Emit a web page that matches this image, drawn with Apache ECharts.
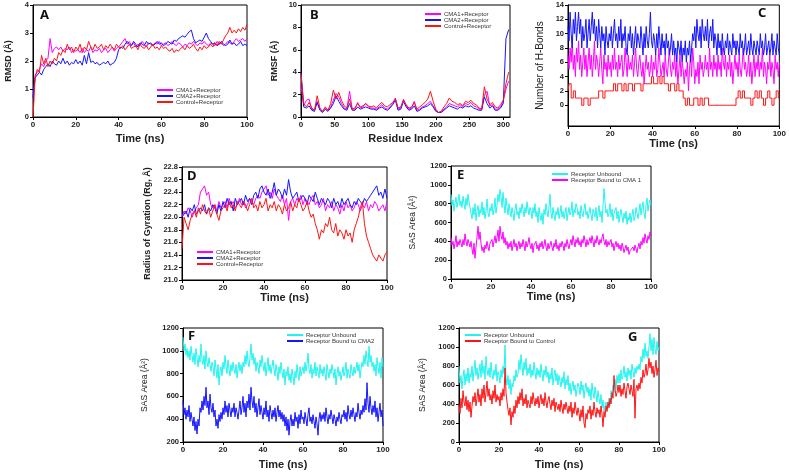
<!DOCTYPE html>
<html>
<head>
<meta charset="utf-8">
<script src="https://cdn.jsdelivr.net/npm/echarts@6/dist/echarts.min.js"></script>
<style>
  html, body { margin: 0; padding: 0; background: #fff; }
  #chart { width: 789px; height: 472px; }
</style>
</head>
<body>
<div id="chart"></div>
<script>
// ---- A: RMSD (0-100 ns, 1 ns steps)
const rmsdCma1 = [0.7,1.5,1.6,1.7,1.9,1.8,2.0,2.1,2.8,2.3,2.45,2.5,2.4,2.5,2.35,2.45,2.4,2.5,2.3,2.4,2.35,2.4,2.3,2.45,2.3,2.4,2.35,2.5,2.3,2.4,2.35,2.45,2.3,2.4,2.45,2.3,2.4,2.5,2.35,2.45,2.5,2.6,2.7,2.8,2.6,2.7,2.55,2.65,2.5,2.6,2.55,2.7,2.6,2.5,2.65,2.6,2.55,2.65,2.6,2.7,2.55,2.6,2.65,2.55,2.6,2.7,2.6,2.55,2.65,2.6,2.5,2.6,2.55,2.65,2.6,2.7,2.6,2.55,2.65,2.6,2.7,2.6,2.55,2.65,2.6,2.55,2.7,2.6,2.65,2.55,2.6,2.7,2.65,2.6,2.7,2.8,2.7,2.75,2.8,2.7,2.8];
const rmsdCma2 = [0.7,1.4,1.5,1.6,1.5,1.7,1.8,1.9,1.8,2.0,1.9,1.85,2.0,1.9,2.1,1.9,2.0,1.85,1.95,1.9,2.05,1.9,2.0,1.85,2.2,1.9,2.3,1.95,2.0,1.9,1.95,1.85,1.9,1.95,1.9,2.0,1.85,1.9,1.95,2.1,2.4,2.5,2.45,2.6,2.7,2.6,2.55,2.7,2.6,2.5,2.65,2.6,2.55,2.7,2.6,2.65,2.55,2.6,2.7,2.6,2.65,2.55,2.6,2.7,2.65,2.6,2.75,2.7,2.8,2.85,2.9,2.85,2.95,3.05,3.1,2.8,2.65,2.7,2.75,2.7,2.85,3.0,2.8,2.7,2.6,2.65,2.55,2.6,2.7,2.6,2.55,2.6,2.75,2.6,2.65,2.55,2.6,2.7,2.55,2.6,2.55];
const rmsdControl = [0.0,1.4,1.7,1.6,2.2,1.9,2.1,1.8,2.0,1.9,2.1,2.0,2.3,2.2,2.4,2.3,2.6,2.4,2.5,2.3,2.5,2.4,2.6,2.3,2.5,2.4,2.7,2.5,2.4,2.6,2.45,2.5,2.6,2.4,2.55,2.45,2.6,2.5,2.4,2.6,2.5,2.45,2.55,2.4,2.5,2.6,2.45,2.5,2.55,2.4,2.6,2.5,2.45,2.55,2.4,2.5,2.6,2.45,2.5,2.4,2.55,2.45,2.5,2.4,2.35,2.45,2.3,2.4,2.35,2.45,2.5,2.4,2.55,2.45,2.5,2.6,2.45,2.35,2.5,2.4,2.55,2.45,2.5,2.6,2.5,2.65,2.55,2.7,2.6,2.75,2.9,3.0,3.2,3.0,3.1,3.0,3.15,3.05,3.2,3.1,3.3];

// ---- B: RMSF (residues 0-308, every 4th residue)
const residueStep = 4;
const rmsfCma1 = [2.8,1.0,1.5,1.6,0.7,0.6,1.4,0.7,0.5,0.8,0.6,0.9,1.5,2.1,1.8,1.2,0.8,0.7,2.3,0.7,0.7,1.3,0.8,0.9,1.2,0.9,0.8,0.8,0.7,0.9,1.1,0.8,0.7,0.9,1.2,1.7,0.7,0.8,1.6,1.0,0.7,0.8,1.4,0.6,0.7,0.9,1.0,1.2,1.4,1.0,0.6,0.4,0.5,0.7,0.9,1.2,1.1,1.0,0.9,1.1,0.9,1.2,1.1,1.3,1.0,0.9,0.7,0.7,2.0,2.3,1.0,1.1,0.7,0.7,0.9,1.4,2.5,3.2];
const rmsfCma2 = [4.0,0.9,0.8,1.0,0.6,0.5,1.3,0.6,0.4,0.7,0.5,0.8,1.2,1.9,1.4,1.0,0.7,0.6,1.2,0.6,0.6,0.9,0.7,0.8,0.9,0.8,0.7,0.7,0.6,0.8,0.9,0.7,0.6,0.8,1.1,1.5,0.6,0.7,1.4,0.9,0.6,0.7,1.0,0.5,0.6,0.8,0.9,1.0,1.2,0.9,0.5,0.4,0.4,0.6,0.8,1.0,0.9,0.8,0.7,0.9,0.8,1.0,0.9,1.0,0.8,0.7,0.6,0.6,1.8,1.2,0.8,1.0,0.6,0.6,0.8,1.2,7.0,7.8];
const rmsfControl = [3.8,1.2,0.9,1.3,0.8,0.6,1.9,0.8,0.5,0.9,0.6,1.2,2.4,1.6,2.2,1.5,1.0,0.8,1.6,0.7,0.8,1.2,0.9,1.0,1.2,1.0,0.9,1.0,0.8,1.1,1.3,1.0,0.9,1.1,1.3,1.6,0.8,0.9,1.5,1.1,0.8,0.9,1.3,0.7,0.9,1.1,1.3,1.6,2.3,1.4,0.7,0.4,0.5,0.9,1.2,1.7,1.4,1.3,1.1,1.2,1.0,1.4,1.3,1.5,1.2,1.1,0.8,0.7,2.7,1.6,1.1,1.3,0.9,0.8,1.1,1.5,3.0,4.0];

// ---- C: number of H-bonds (0.5 ns sampling for CMA1/CMA2, 1 ns for control)
const hbCma1 = [
  7,5,8,6,9,5,7,4,8,6, 9,5,7,4,6,8,5,7,4,6, 8,5,7,4,6,9,5,7,6,4, 6,8,5,3,7,5,6,4,7,5,
  6,4,7,5,8,5,6,4,7,5, 6,7,4,5,8,6,4,7,5,6, 5,7,4,6,8,5,4,6,7,5, 4,6,3,5,7,5,6,4,5,7,
  4,6,5,7,4,5,8,6,4,5, 6,4,7,5,4,6,8,5,4,6, 5,7,4,6,3,5,7,4,6,5, 3,5,4,6,2,5,7,4,8,6,
  3,5,4,6,3,7,5,6,4,5, 7,5,6,4,8,5,6,4,7,5, 6,4,7,5,6,4,8,6,5,7, 4,6,5,7,4,6,3,5,7,5,
  6,4,7,5,4,6,8,5,6,4, 5,7,4,6,3,5,7,4,6,5, 7,4,6,5,8,4,6,5,3,6, 5,7,4,6,5,3,7,5,6,4, 6];
const hbCma2 = [
  11,9,13,10,8,12,10,13,9,11, 13,10,12,8,11,9,10,12,8,10, 12,9,11,13,10,12,9,11,8,12, 10,8,11,9,10,7,11,9,8,10,
  9,11,8,10,12,9,10,8,11,9, 12,8,10,9,11,8,7,10,9,11, 8,10,7,9,11,8,10,9,8,11, 9,7,10,8,11,9,8,10,13,9,
  8,10,9,7,10,8,11,9,7,10, 8,9,7,10,8,9,7,8,10,7, 9,7,8,6,9,8,7,9,6,8, 7,9,6,8,7,9,6,8,10,9,
  11,8,12,10,9,11,8,12,10,9, 11,9,12,8,10,11,9,12,8,10, 9,7,10,8,9,7,10,8,7,9, 8,10,7,9,8,7,10,8,9,7,
  9,8,7,10,8,9,7,8,10,7, 8,9,7,10,8,7,9,8,7,9, 8,7,10,8,9,7,8,10,7,8, 9,7,8,10,7,9,8,7,10,8, 7];
const hbControl = [2,3,1,2,1,1,1,0,1,1,0,1,1,1,1,2,2,1,2,2,2,2,3,2,3,3,2,3,2,3,3,2,3,3,3,2,3,3,3,3,4,3,3,4,3,4,3,3,2,3,3,2,3,2,2,1,0,1,0,0,1,1,0,1,0,1,1,0,0,0,0,0,0,0,0,0,0,0,0,0,1,2,1,2,1,1,1,0,1,2,1,2,1,0,1,2,1,0,1,2,1];
const hbTicks = [0,2,4,6,8,10,12,14];

// ---- D: radius of gyration
const rgCma1 = [22.0,22.1,22.05,22.15,22.1,22.0,22.1,22.15,22.2,22.4,22.45,22.5,22.35,22.4,22.2,22.15,22.2,22.1,22.25,22.15,22.2,22.25,22.15,22.3,22.2,22.25,22.15,22.2,22.3,22.2,22.25,22.15,22.2,22.3,22.25,22.2,22.3,22.35,22.3,22.4,22.45,22.5,22.35,22.4,22.3,22.45,22.35,22.3,22.25,22.35,22.2,22.3,21.95,22.25,22.3,22.2,22.3,22.25,22.35,22.2,22.3,22.25,22.2,22.3,22.35,22.2,22.25,22.15,22.2,22.3,22.1,22.2,22.15,22.25,22.1,22.2,22.15,22.05,22.2,22.1,22.25,22.15,22.2,22.1,22.15,22.25,22.2,22.1,22.2,22.15,22.25,22.1,22.2,22.15,22.25,22.2,22.1,22.15,22.2,22.1,22.25];
const rgCma2 = [22.0,22.05,22.1,22.0,22.15,22.1,22.2,22.05,22.1,22.15,22.1,22.2,22.05,22.15,22.1,22.2,22.15,22.05,22.2,22.1,22.25,22.15,22.3,22.2,22.25,22.1,22.3,22.2,22.25,22.3,22.2,22.35,22.25,22.3,22.2,22.35,22.4,22.3,22.45,22.5,22.4,22.35,22.45,22.3,22.4,22.55,22.35,22.45,22.4,22.3,22.45,22.35,22.6,22.4,22.3,22.35,22.4,22.25,22.3,22.35,22.3,22.2,22.35,22.3,22.25,22.4,22.3,22.2,22.3,22.25,22.2,22.3,22.25,22.15,22.3,22.2,22.25,22.15,22.3,22.2,22.25,22.3,22.2,22.15,22.25,22.2,22.3,22.25,22.2,22.3,22.25,22.3,22.35,22.4,22.45,22.5,22.35,22.4,22.3,22.45,22.3];
const rgControl = [21.5,22.0,21.9,21.8,21.95,22.05,22.1,22.0,22.15,22.05,22.2,22.1,22.05,22.15,22.0,22.1,22.2,22.05,21.95,22.1,22.15,22.2,22.1,22.25,22.15,22.2,22.1,22.25,22.2,22.15,22.25,22.2,22.1,22.2,22.3,22.15,22.2,22.1,22.25,22.15,22.2,22.3,22.1,22.2,22.15,22.25,22.1,22.2,22.15,22.05,22.2,22.1,22.15,22.25,22.1,22.2,22.15,22.3,22.2,22.1,22.15,22.25,22.1,22.0,22.05,21.9,21.8,21.65,21.8,21.75,21.9,21.85,22.0,21.8,21.75,21.9,21.7,21.8,21.75,21.65,21.8,21.7,21.75,21.6,21.8,21.9,22.0,22.15,22.25,21.9,21.7,21.6,21.5,21.4,21.35,21.3,21.4,21.35,21.3,21.4,21.45];

// ---- E: SASA unbound vs bound to CMA 1 (0.5 ns sampling)
const sasUnboundE = [
  900,780,840,720,800,870,760,820,900,780, 830,760,880,800,740,860,780,900,820,760,
  700,640,760,680,800,620,720,780,660,740, 700,820,680,760,640,720,850,700,660,760,
  720,800,680,740,860,700,780,900,820,950, 880,760,920,800,700,860,760,680,800,720,
  660,760,700,620,740,800,680,720,640,760, 700,800,740,660,760,700,820,740,680,760,
  720,640,760,700,800,660,720,600,760,680, 620,700,580,740,680,800,720,660,760,900,
  700,640,760,680,620,720,680,760,640,700, 780,660,720,640,700,760,620,700,760,680,
  720,820,660,740,700,800,760,680,720,640, 780,700,660,740,800,680,720,640,700,760,
  680,620,740,700,660,760,620,700,780,660, 720,600,780,960,820,700,740,660,700,800,
  660,740,620,700,680,760,640,720,600,680, 740,660,600,700,640,720,580,660,620,700,
  600,680,740,620,660,760,700,640,720,800, 680,760,820,700,640,780,860,720,800,840, 780];
const sasCma1 = [
  440,360,400,320,380,460,340,400,360,420, 380,340,420,360,480,400,350,420,380,340,
  400,320,260,380,220,340,440,560,420,500, 380,300,340,280,360,320,400,340,300,380,
  360,420,340,400,460,380,440,520,400,560, 460,420,500,380,440,360,400,320,380,340,
  400,300,360,420,340,380,300,360,400,320, 380,340,420,360,300,400,340,380,440,360,
  320,380,280,360,340,400,320,360,300,380, 340,400,320,360,420,340,300,380,320,360,
  400,340,300,380,340,420,320,360,300,380, 340,400,360,300,380,340,420,360,320,380,
  420,360,460,400,340,420,380,440,360,400, 340,420,380,460,400,340,420,360,400,440,
  380,460,400,340,420,380,460,400,360,420, 380,440,480,400,360,420,340,400,360,380,
  420,340,380,300,360,400,340,380,320,360, 300,380,340,280,320,360,300,340,260,300,
  320,280,340,300,360,320,280,340,380,320, 400,360,440,380,480,420,380,460,420,500, 460];

// ---- F: SASA unbound vs bound to CMA2 (0.5 ns sampling)
const sasUnboundF = [
  1120,1000,1060,960,1020,940,1000,920,1040,960, 900,980,880,1020,940,860,960,900,1060,920,
  880,960,840,1000,900,860,940,880,820,900, 860,780,920,840,760,880,700,820,860,780,
  900,840,960,860,800,920,840,780,880,820, 900,840,800,880,760,840,900,820,880,800,
  900,860,960,880,1000,900,860,940,1060,920, 980,880,940,820,900,860,800,920,860,960,
  880,820,900,780,860,940,820,880,800,860, 920,840,780,880,820,740,860,800,900,820,
  760,840,700,820,780,860,740,800,720,840, 780,700,820,760,880,800,740,860,780,820,
  860,800,900,820,880,980,840,800,880,760, 840,800,900,780,860,820,760,880,800,840,
  780,860,800,740,880,820,760,840,800,880, 820,760,840,700,800,860,780,820,740,800,
  860,780,820,900,760,840,800,760,880,820, 780,860,800,840,900,820,880,760,840,900,
  860,960,880,1000,920,860,1040,900,960,860, 900,820,880,780,940,860,800,900,760,940, 860];
const sasCma2 = [
  560,440,500,400,480,420,520,380,460,400, 340,420,300,380,270,400,340,500,460,560,
  480,600,520,680,500,560,440,620,500,460, 540,420,480,340,400,320,440,380,460,400,
  500,440,560,460,520,420,540,480,420,500, 460,540,420,500,460,400,480,560,440,500,
  600,460,540,420,560,500,620,480,680,560, 500,600,460,540,420,500,580,440,520,460,
  400,500,440,560,420,480,380,520,460,400, 480,420,500,380,460,520,420,480,400,460,
  380,440,340,420,300,400,260,380,440,340, 400,340,460,380,420,320,440,360,480,400,
  420,360,460,400,340,440,500,380,420,360, 440,380,320,420,360,260,400,460,380,440,
  400,460,380,500,420,360,440,400,480,420, 360,440,400,340,420,380,460,400,360,440,
  420,480,400,460,380,520,440,400,480,420, 500,440,380,460,420,540,460,400,480,440,
  520,460,580,480,720,540,460,600,500,440, 520,460,560,420,500,380,460,540,420,480, 340];

// ---- G: SASA unbound vs bound to control (0.5 ns sampling)
const sasUnboundG = [
  800,620,700,560,680,760,600,720,640,780, 620,720,680,800,640,760,860,700,780,660,
  740,820,680,860,720,800,660,900,760,700, 780,680,840,720,660,760,700,820,640,740,
  700,620,760,680,800,720,1020,680,600,700, 560,660,500,620,580,700,640,760,680,720,
  860,760,920,800,700,840,760,880,700,780, 720,820,680,760,700,840,740,660,780,700,
  760,680,820,720,640,760,700,800,680,740, 620,720,660,780,600,700,760,640,720,600,
  700,640,580,680,620,740,560,660,600,700, 540,620,500,580,640,540,600,480,560,620,
  580,500,640,540,600,460,560,620,520,580, 480,560,440,620,520,460,580,500,420,540,
  460,400,500,360,440,320,380,420,340,400, 460,380,540,480,600,520,660,560,700,620,
  720,620,760,660,700,800,680,740,640,780, 700,760,660,820,740,680,780,720,800,760,
  820,760,900,840,980,880,1040,900,960,880, 1000,1140,960,1080,920,1100,980,920,1060,960, 1000];
const sasControl = [
  400,300,460,360,540,420,380,480,340,440, 320,420,260,380,480,420,520,380,460,560,
  420,500,380,560,460,600,420,520,640,480, 560,440,500,400,540,460,600,420,500,440,
  480,380,520,440,560,480,780,520,420,340, 280,360,180,320,260,380,300,440,360,480,
  400,520,440,560,380,460,400,500,360,440, 420,360,480,400,520,440,380,460,400,480,
  360,440,500,400,460,380,520,420,360,440, 480,400,340,440,380,460,320,420,380,340,
  400,320,440,360,300,400,340,420,360,300, 380,320,420,260,360,300,420,340,280,360,
  300,220,340,260,380,200,150,300,240,340, 300,380,240,340,280,420,320,260,360,300,
  340,260,380,300,160,320,260,380,320,420, 360,460,400,520,460,700,560,480,520,600,
  520,600,480,560,500,620,540,460,580,620, 560,500,600,540,480,660,250,560,600,540,
  620,560,680,620,760,680,720,820,700,760, 880,780,840,720,800,680,760,860,700,780, 740];

const MAG = '#ff00ff', BLUE = '#1414ff', RED = '#ff1414', CYAN = '#1ff5ef';

// spread samples evenly over 0..100 ns
function overTime(arr) {
  return arr.map((v, i) => [i * 100 / (arr.length - 1), v]);
}
function overResidue(arr) {
  return arr.map((v, i) => [i * residueStep, v]);
}

const font = 'Liberation Sans';
const tickLabel = { fontFamily: font, fontWeight: 'bold', fontSize: 8, color: '#222', margin: 4 };

function xAxis(gi, max, interval, name, gap) {
  return {
    gridIndex: gi, type: 'value', min: 0, max: max, interval: interval,
    name: name, nameLocation: 'middle', nameGap: gap,
    nameTextStyle: { fontFamily: font, fontWeight: 'bold', fontSize: 11, color: '#222' },
    axisLine: { onZero: false, lineStyle: { color: '#000', width: 1 } },
    axisTick: { length: 3, lineStyle: { color: '#000' } },
    splitLine: { show: false },
    axisLabel: tickLabel
  };
}
function yAxis(gi, min, max, interval, name, gap, nameSize, nameWeight, digits) {
  return {
    gridIndex: gi, type: 'value', min: min, max: max, interval: interval,
    name: name, nameLocation: 'middle', nameGap: gap, nameRotate: 90,
    nameTextStyle: { fontFamily: font, fontWeight: nameWeight || 'bold', fontSize: nameSize || 9, color: '#222' },
    axisLine: { onZero: false, lineStyle: { color: '#000', width: 1 } },
    axisTick: { length: 3, lineStyle: { color: '#000' } },
    splitLine: { show: false },
    axisLabel: Object.assign({}, tickLabel, {
      fontSize: 7.5,
      formatter: v => digits ? v.toFixed(digits) : String(v)
    })
  };
}
function grid(left, top, width, height) {
  return { left, top, width, height, show: true, borderColor: '#000', borderWidth: 1, backgroundColor: '#fff' };
}
function legend(names, left, top) {
  return {
    orient: 'vertical', left, top, padding: 0, itemGap: 0,
    itemWidth: 16, itemHeight: 2, icon: 'rect', selectedMode: false,
    textStyle: { fontFamily: font, fontSize: 6, lineHeight: 6, color: '#333', padding: [0, 0, 0, -2] },
    data: names
  };
}
function line(name, gi, data, color, step) {
  return {
    name, type: 'line', xAxisIndex: gi, yAxisIndex: gi, data,
    showSymbol: false, animation: false, step: step || false,
    lineStyle: { color, width: 1 }, itemStyle: { color }
  };
}
function letter(text, left, top) {
  return { text, left, top, padding: 0, textStyle: { fontFamily: 'Noto Sans', fontWeight: 'bold', fontSize: 13, color: '#111' } };
}

const chart = echarts.init(document.getElementById('chart'));

const yC = yAxis(2, -2.9, 14, null, 'Number of H-Bonds', 23, 10, 'normal');
yC.axisLabel.customValues = hbTicks;
yC.axisTick.customValues = hbTicks;

chart.setOption({
  animation: false,
  backgroundColor: '#fff',
  title: [
    letter('A', 40, 9), letter('B', 310, 9), letter('C', 758, 7),
    letter('D', 187, 170), letter('E', 457, 169), letter('F', 188, 330), letter('G', 628, 331)
  ],
  legend: [
    legend(['CMA1+Receptor', 'CMA2+Receptor', 'Control+Receptor'], 157, 87),
    legend(['CMA1+Receptor', 'CMA2+Receptor', 'Control+Receptor'], 425, 11),
    legend(['CMA1+Receptor', 'CMA2+Receptor', 'Control+Receptor'], 197, 249),
    legend(['Receptor Unbound', 'Receptor Bound to CMA 1'], 552, 171),
    legend(['Receptor Unbound', 'Receptor Bound to CMA2'], 287, 332),
    legend(['Receptor Unbound', 'Receptor Bound to Control'], 465, 332)
  ],
  grid: [
    grid(33, 5, 214, 112),
    grid(301, 5, 209, 112),
    grid(568, 5, 212, 121),
    grid(182, 167, 205, 113),
    grid(451, 166, 200, 113),
    grid(183, 328, 200, 114),
    grid(459, 328, 200, 114)
  ],
  xAxis: [
    xAxis(0, 100, 20, 'Time (ns)', 16),
    xAxis(1, 310, 50, 'Residue Index', 16),
    xAxis(2, 100, 20, 'Time (ns)', 10),
    xAxis(3, 100, 20, 'Time (ns)', 10),
    xAxis(4, 100, 20, 'Time (ns)', 11),
    xAxis(5, 100, 20, 'Time (ns)', 17),
    xAxis(6, 100, 20, 'Time (ns)', 17)
  ],
  yAxis: [
    yAxis(0, 0, 4, 1, 'RMSD (Å)', 20),
    yAxis(1, 0, 10, 2, 'RMSF (Å)', 22),
    yC,
    yAxis(3, 21.0, 22.8, 0.2, 'Radius of Gyration (Rg, Å)', 30, 9, 'bold', 1),
    yAxis(4, 0, 1200, 200, 'SAS Area (Å²)', 34, 8.5, 'normal'),
    yAxis(5, 200, 1200, 200, 'SAS Area (Å²)', 34, 8.5, 'normal'),
    yAxis(6, 0, 1200, 200, 'SAS Area (Å²)', 32, 8.5, 'normal')
  ],
  series: [
    line('CMA1+Receptor', 0, overTime(rmsdCma1), MAG),
    line('CMA2+Receptor', 0, overTime(rmsdCma2), BLUE),
    line('Control+Receptor', 0, overTime(rmsdControl), RED),

    line('CMA1+Receptor', 1, overResidue(rmsfCma1), MAG),
    line('CMA2+Receptor', 1, overResidue(rmsfCma2), BLUE),
    line('Control+Receptor', 1, overResidue(rmsfControl), RED),

    line('H-bonds Control', 2, overTime(hbControl), RED, 'middle'),
    line('H-bonds CMA1', 2, overTime(hbCma1), MAG),
    line('H-bonds CMA2', 2, overTime(hbCma2), BLUE),

    line('CMA1+Receptor', 3, overTime(rgCma1), MAG),
    line('CMA2+Receptor', 3, overTime(rgCma2), BLUE),
    line('Control+Receptor', 3, overTime(rgControl), RED),

    line('Receptor Unbound', 4, overTime(sasUnboundE), CYAN),
    line('Receptor Bound to CMA 1', 4, overTime(sasCma1), MAG),

    line('Receptor Unbound', 5, overTime(sasUnboundF), CYAN),
    line('Receptor Bound to CMA2', 5, overTime(sasCma2), BLUE),

    line('Receptor Unbound', 6, overTime(sasUnboundG), CYAN),
    line('Receptor Bound to Control', 6, overTime(sasControl), RED)
  ]
});
</script>
</body>
</html>
